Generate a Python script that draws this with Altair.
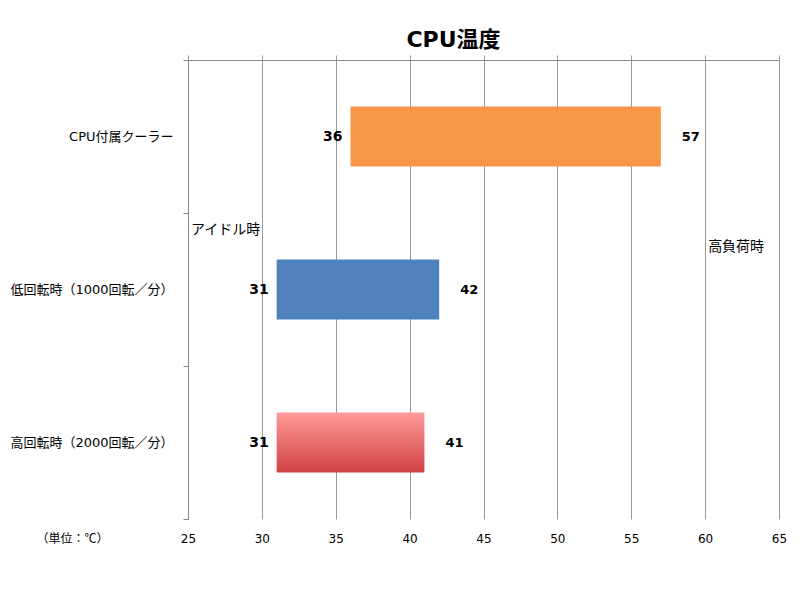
import altair as alt
import pandas as pd

categories = ["CPU付属クーラー", "低回転時（1000回転／分）", "高回転時（2000回転／分）"]
idle_temp = [36, 31, 31]
load_temp = [57, 42, 41]
x_ticks = [25, 30, 35, 40, 45, 50, 55, 60, 65]

df = pd.DataFrame({"cat": categories, "idle": idle_temp, "load": load_temp})

FONT = "DejaVu Sans, Noto Sans CJK JP"

y_enc = alt.Y("cat:N", sort=categories, title=None,
              scale=alt.Scale(paddingInner=0, paddingOuter=0),
              axis=alt.Axis(domainColor="#888888", tickColor="#888888", tickSize=5,
                            tickBand="extent", labelFontSize=13, labelColor="#000000",
                            labelFont=FONT, labelPadding=10, grid=False))

x_scale = alt.Scale(domain=[25, 65], nice=False, zero=False)

def xq(field):
    return alt.X(field, scale=x_scale, axis=None, title=None)

base = alt.Chart(df)

top_axis = base.mark_bar(opacity=0).encode(
    x=alt.X("idle:Q", scale=x_scale, title=None,
            axis=alt.Axis(orient="top", values=x_ticks, labels=False, ticks=True, tickSize=5,
                          tickColor="#999999", domainColor="#888888", grid=True,
                          gridColor="#999999", gridWidth=1)),
    y=y_enc,
)

bottom_axis = base.mark_bar(opacity=0).encode(
    x=alt.X("load:Q", scale=x_scale,
            title="（単位：℃）",
            axis=alt.Axis(orient="bottom", values=x_ticks, domain=False, ticks=False, grid=False,
                          labelFontSize=12, labelColor="#000000", labelPadding=14,
                          labelFlush=False,
                          labelFont=FONT, titleFont="Noto Sans CJK JP", titleFontSize=12,
                          titleFontWeight="normal", titleX=-116, titleY=19,
                          titleBaseline="middle", titleAlign="center")),
    y=y_enc,
)

def bar_layer(cat, color):
    return base.transform_filter(alt.datum.cat == cat).mark_bar(color=color, size=60).encode(
        x=xq("idle:Q"), x2="load:Q", y=y_enc)

orange = bar_layer(categories[0], "#F79646")
blue = bar_layer(categories[1], "#4F81BD")
red = bar_layer(categories[2], alt.Gradient(
    gradient="linear", x1=0, x2=0, y1=0, y2=1,
    stops=[alt.GradientStop(offset=0, color="#FF9A9A"),
           alt.GradientStop(offset=1, color="#D04242")]))

left_labels = base.mark_text(align="right", baseline="middle", dx=-8, fontSize=14,
                             fontWeight="bold", font=FONT, color="#000000").encode(
    x=xq("idle:Q"), y=y_enc, text="idle:Q")
right_labels = base.mark_text(align="left", baseline="middle", dx=21, fontSize=13,
                              fontWeight="bold", font=FONT, color="#000000").encode(
    x=xq("load:Q"), y=y_enc, text="load:Q")

notes = pd.DataFrame({"label": ["アイドル時", "高負荷時"], "xv": [25, 60], "yv": [170, 187]})
note_layer = alt.Chart(notes).mark_text(align="left", baseline="middle", dx=3, fontSize=14,
                                        font="Noto Sans CJK JP", color="#000000").encode(
    x=xq("xv:Q"), y=alt.Y("yv:Q", scale=None, axis=None), text="label:N")

chart = alt.layer(top_axis, bottom_axis, orange, blue, red, left_labels, right_labels,
                  note_layer).resolve_axis(x="independent").properties(
    width=591, height=459,
    title=alt.TitleParams("CPU温度", fontSize=22, fontWeight="bold", font=FONT,
                          anchor="middle", dx=-30, offset=2, color="#000000"),
    autosize=alt.AutoSizeParams(type="none"),
    padding={"left": 180, "top": 52, "right": 10, "bottom": 60},
).configure_view(stroke=None)

chart.save("out.html", embed_options={"renderer": "svg", "actions": False})
